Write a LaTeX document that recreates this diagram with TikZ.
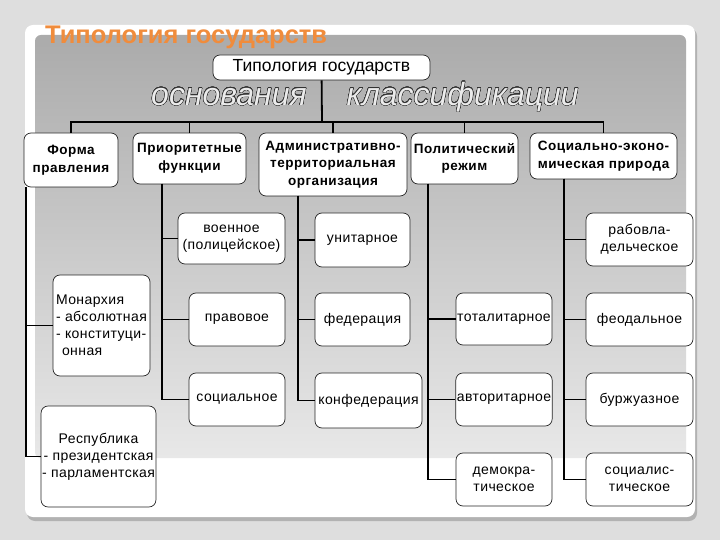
\documentclass[tikz,border=0pt]{standalone}
\usepackage{fontspec}
\setmainfont{Liberation Sans}
\usepackage{contour}
\usetikzlibrary{positioning}

\definecolor{pagegray}{HTML}{DEDEDE}
\definecolor{titleorange}{HTML}{F08C3C}
\contourlength{0.3pt}
\contournumber{32}

\tikzset{
  box/.style={draw=black!85, fill=white, rounded corners=7pt, line width=0.7pt,
    align=center, inner sep=1pt,
    font=\fontsize{14}{17}\selectfont\addfontfeature{LetterSpace=3}},
  headbox/.style={box, font=\bfseries\fontsize{13.5}{17.5}\selectfont\addfontfeature{LetterSpace=4}},
  link/.style={line width=1.8pt},
}

\begin{document}
\begin{tikzpicture}[x=1pt, y=-1pt]
    \useasboundingbox[fill=pagegray] (0,0) rectangle (720,540);
    % Frame
    \fill[black!30, rounded corners=8pt] (27,28) rectangle (697,521);
    \fill[white, rounded corners=8pt] (25,25) rectangle (695,517);
    \shade[rounded corners=6pt, top color=black!33, bottom color=black!9]
      (35,35) rectangle (686,458);
    \node[anchor=base west, text=titleorange, inner sep=0pt,
      font=\bfseries\fontsize{25.5}{27}\selectfont] (title) at (45,44) {Типология государств};
    \node[font=\itshape\fontsize{32}{34}\selectfont] (basis) at (365,97)
      {\contour{black!80}{\textcolor{black!8}{основания\hspace{40pt}классификации}}};

    % Nodes
    \node[box, minimum width=217, minimum height=25, font=\fontsize{17.5}{19}\selectfont] (top) at (321.5,67.5) {Типология государств};

    \node[headbox, minimum width=94, minimum height=54] (forma) at (71,160) {Форма\\правления};
    \node[headbox, minimum width=113, minimum height=51] (prio) at (189.5,158.5) {Приоритетные\\функции};
    \node[headbox, minimum width=148, minimum height=63] (admin) at (333,164.5) {Административно-\\территориальная\\организация};
    \node[headbox, minimum width=107, minimum height=51] (polit) at (464.5,158.5) {Политический\\режим};
    \node[headbox, minimum width=147, minimum height=46] (socec) at (603.5,156) {Социально-эконо-\\мическая природа};

    \node[box, minimum width=97, minimum height=101, align=left] (monarch) at (101.5,325.5) {Монархия\\- абсолютная\\- конституци-\\\hspace*{6pt}онная};
    \node[box, minimum width=113, minimum height=101] (republic) at (98.5,456.5) {Республика\\- президентская\\- парламентская};

    \node[box, minimum width=107, minimum height=51] (voen) at (231.5,238.5) {военное\\(полицейское)};
    \node[box, minimum width=96, minimum height=53] (pravo) at (237,319.5) {правовое};
    \node[box, minimum width=96, minimum height=53] (social) at (237,399.5) {социальное};

    \node[box, minimum width=95, minimum height=54] (unit) at (362.5,240) {унитарное};
    \node[box, minimum width=95, minimum height=53] (feder) at (362.5,319.5) {федерация};
    \node[box, minimum width=107, minimum height=55] (konf) at (368.5,400.5) {конфедерация};

    \node[box, minimum width=96, minimum height=52] (total) at (504,319) {тоталитарное};
    \node[box, minimum width=96, minimum height=53] (avtor) at (504,399.5) {авторитарное};
    \node[box, minimum width=96, minimum height=53] (demo) at (504,479.5) {демокра-\\тическое};

    \node[box, minimum width=107, minimum height=53] (rabo) at (639.5,239.5) {рабовла-\\дельческое};
    \node[box, minimum width=107, minimum height=53] (feod) at (639.5,319.5) {феодальное};
    \node[box, minimum width=107, minimum height=53] (burzh) at (639.5,399.5) {буржуазное};
    \node[box, minimum width=107, minimum height=53] (sociz) at (639.5,479.5) {социалис-\\тическое};

    % Bus
    \coordinate (hub) at (322,122);
    \draw[link] (top) -- (hub);
    \draw[link] (hub) -| (forma);
    \draw[link] (hub) -| (prio);
    \draw[link] (hub) -| (admin);
    \draw[link] (hub) -| (polit);
    \draw[link] (hub) -| (socec);

    % Branches
    \coordinate (fv) at (26,187);
    \coordinate (pv) at (162,184);
    \coordinate (av) at (298,196);
    \coordinate (plv) at (428,184);
    \coordinate (sv) at (564,179);
    \draw[link] (fv) |- (monarch);
    \draw[link] (fv) |- (republic);
    \draw[link] (pv) |- (voen);
    \draw[link] (pv) |- (pravo);
    \draw[link] (pv) |- (social);
    \draw[link] (av) |- (unit);
    \draw[link] (av) |- (feder);
    \draw[link] (av) |- (konf);
    \draw[link] (plv) |- (total);
    \draw[link] (plv) |- (avtor);
    \draw[link] (plv) |- (demo);
    \draw[link] (sv) |- (rabo);
    \draw[link] (sv) |- (feod);
    \draw[link] (sv) |- (burzh);
    \draw[link] (sv) |- (sociz);
  \end{tikzpicture}
\end{document}
